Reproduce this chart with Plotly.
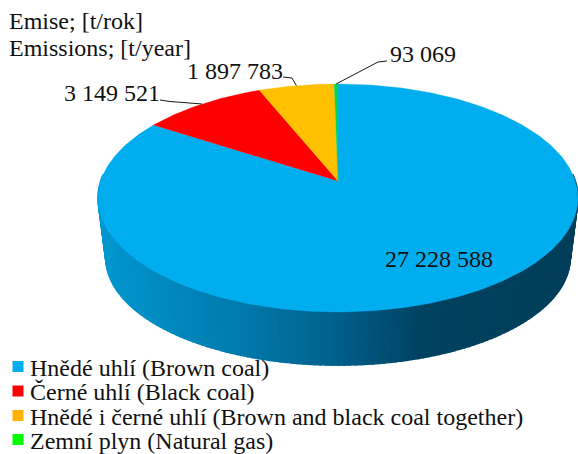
import math
import plotly.graph_objects as go

categories = ["Hnědé uhlí (Brown coal)", "Černé uhlí (Black coal)",
              "Hnědé i černé uhlí (Brown and black coal together)", "Zemní plyn (Natural gas)"]
values = [27228588, 3149521, 1897783, 93069]
value_labels = ["27 228 588", "3 149 521", "1 897 783", "93 069"]
colors = ["#00AEEF", "#FF0000", "#FFC000", "#00D850"]
legend_colors = ["#00AEEF", "#FF0000", "#FFB300", "#00FF00"]
title_lines = ["Emise; [t/rok]", "Emissions; [t/year]"]

FONT = "Liberation Serif"
W, H = 578, 454
K = 0.149
TOP = dict(a=237.3, b=111.5, cx=338, cy=181)
BOT = dict(a=229.6, b=104.9, cx=338, cy=241.9)


def project(theta, g, r=1.0):
    u, v = r * math.sin(theta), r * math.cos(theta)
    d = 1 + K * v
    return g["cx"] + g["a"] * u / d, g["cy"] - g["b"] * v / d


def side_color(x):
    stops = [(98, (0, 152, 208)), (240, (0, 122, 172)), (330, (0, 98, 142)),
             (425, (0, 66, 96)), (578, (0, 62, 90))]
    for (x0, c0), (x1, c1) in zip(stops, stops[1:]):
        if x <= x1:
            t = (x - x0) / (x1 - x0)
            return "rgb(%d,%d,%d)" % tuple(round(a + (b - a) * t) for a, b in zip(c0, c1))
    return "rgb(0,62,90)"


fig = go.Figure()

# side wall: narrow quads along the front half of the rim
N = 150
for i in range(N):
    t0 = 3 * math.pi / 2 + 0.06 - (math.pi + 0.12) * i / N
    t1 = 3 * math.pi / 2 + 0.06 - (math.pi + 0.12) * (i + 1) / N
    a0, a1 = project(t0, TOP), project(t1, TOP)
    b0, b1 = project(t0, BOT), project(t1, BOT)
    col = side_color((a0[0] + a1[0]) / 2)
    fig.add_trace(go.Scatter(
        x=[a0[0], a1[0], b1[0], b0[0], a0[0]], y=[a0[1], a1[1], b1[1], b0[1], a0[1]],
        mode="lines", fill="toself", fillcolor=col, line=dict(color=col, width=1.5),
        hoverinfo="skip", showlegend=False))

# top face slices
total = sum(values)
start = 0.0
mids = []
for name, val, col in zip(categories, values, colors):
    span = 2 * math.pi * val / total
    n = max(3, int(span * 80))
    pts = [project(start + span * j / n, TOP) for j in range(n + 1)]
    xs = [TOP["cx"]] + [p[0] for p in pts] + [TOP["cx"]]
    ys = [TOP["cy"]] + [p[1] for p in pts] + [TOP["cy"]]
    fig.add_trace(go.Scatter(x=xs, y=ys, mode="lines", fill="toself", fillcolor=col,
                             line=dict(color=col, width=0.3), name=name,
                             hoverinfo="name", showlegend=False))
    mids.append(start + span / 2)
    start += span

# leader lines, from the label to the rim of its slice
leaders = [None, (160, 100, 170, 101.5), (283, 77, 292, 78), (378, 62, 387, 61)]
for i, lead in enumerate(leaders):
    if lead is None:
        continue
    px, py = project(mids[i], TOP)
    if i == 3:
        lx, ly = [px, lead[2] - 9, lead[2]], [py, lead[3] + 1, lead[3]]
    else:
        lx, ly = [lead[0], lead[2], px], [lead[1], lead[3], py]
    fig.add_trace(go.Scatter(x=lx, y=ly, mode="lines", line=dict(color="#1a1a1a", width=1),
                             hoverinfo="skip", showlegend=False))

# legend rows
row_y = [367.5, 392, 416.5, 440.5]
for name, col, y in zip(categories, legend_colors, row_y):
    fig.add_trace(go.Scatter(x=[18], y=[y - 1], mode="markers",
                             marker=dict(symbol="square", size=11, color=col),
                             hoverinfo="skip", showlegend=False))

anns = []


def label(text, x, y, anchor="left", size=24):
    anns.append(dict(text=text, x=x, y=y, xref="x", yref="y", xanchor=anchor, yanchor="middle",
                     showarrow=False, font=dict(family=FONT, size=size, color="#111111"),
                     borderpad=0))


for name, y in zip(categories, row_y):
    label(name, 29, y)
label(title_lines[0], 8, 21)
label(title_lines[1], 8, 48)
label(value_labels[0], 384, 259)
label(value_labels[1], 63, 93)
label(value_labels[2], 186, 71)
label(value_labels[3], 389, 54)

fig.update_layout(
    width=W, height=H, margin=dict(l=0, r=0, t=0, b=0),
    paper_bgcolor="white", plot_bgcolor="white", showlegend=False,
    xaxis=dict(range=[0, W], visible=False, fixedrange=True),
    yaxis=dict(range=[H, 0], visible=False, fixedrange=True),
    annotations=anns,
)
fig.write_html("out.html", config={"displayModeBar": False},
               post_script="document.body.style.margin='0';document.body.style.overflow='hidden';")
